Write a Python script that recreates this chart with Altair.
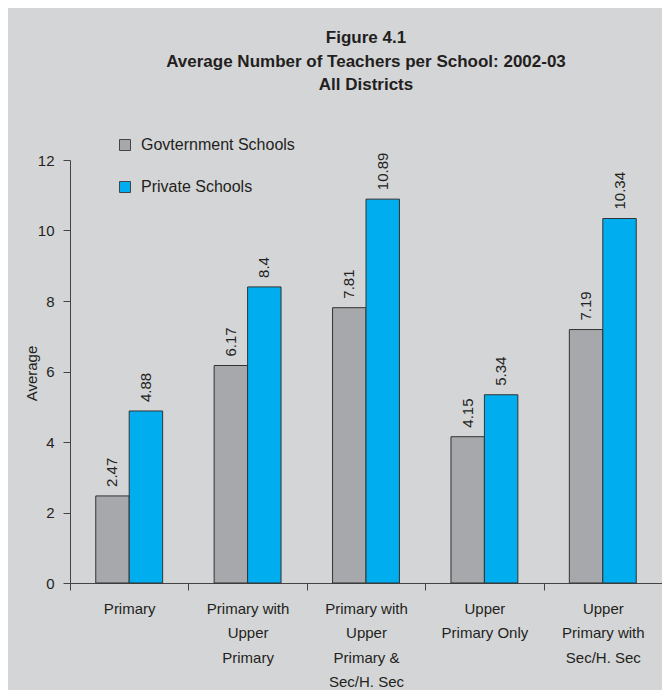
import altair as alt
import pandas as pd

categories = [
    "Primary",
    "Primary with|Upper|Primary",
    "Primary with|Upper|Primary &|Sec/H. Sec",
    "Upper|Primary Only",
    "Upper|Primary with|Sec/H. Sec",
]
series_names = ["Govternment Schools", "Private Schools"]
gov_values = [2.47, 6.17, 7.81, 4.15, 7.19]
pvt_values = [4.88, 8.4, 10.89, 5.34, 10.34]
bar_colors = ["#a7a8ab", "#00aeef"]

rows = []
for c, g, p in zip(categories, gov_values, pvt_values):
    rows.append({"cat": c, "series": series_names[0], "value": g, "label": str(g)})
    rows.append({"cat": c, "series": series_names[1], "value": p, "label": str(p)})
df = pd.DataFrame(rows)

FONT = "Liberation Sans"
TXT = "#231f20"

x_enc = alt.X(
    "cat:N",
    sort=categories,
    scale=alt.Scale(paddingInner=0, paddingOuter=0),
    axis=alt.Axis(
        title=None,
        labelExpr="split(datum.label, '|')",
        labelAngle=0,
        labelFontSize=15,
        labelLineHeight=24.5,
        labelPadding=11,
        labelColor=TXT,
        labelFont=FONT,
        tickSize=7,
        tickBand="extent",
        tickColor="#444",
        domainColor="#444",
        labelBaseline="top",
    ),
)
xoff_enc = alt.XOffset(
    "series:N", sort=series_names, scale=alt.Scale(paddingOuter=0.77, paddingInner=0)
)
y_enc = alt.Y(
    "value:Q",
    scale=alt.Scale(domain=[0, 12]),
    axis=alt.Axis(
        title="Average",
        values=[0, 2, 4, 6, 8, 10, 12],
        grid=False,
        tickSize=7,
        labelPadding=9,
        labelFontSize=15,
        labelColor=TXT,
        labelFont=FONT,
        tickColor="#444",
        domainColor="#444",
        titleFontSize=15,
        titleFontWeight="normal",
        titleColor=TXT,
        titleFont=FONT,
        titleX=-39,
        titleY=213,
        titleBaseline="middle",
    ),
)

bars = alt.Chart(df).mark_bar(stroke="#333333", strokeWidth=1).encode(
    x=x_enc,
    xOffset=xoff_enc,
    y=y_enc,
    color=alt.Color(
        "series:N",
        sort=series_names,
        scale=alt.Scale(domain=series_names, range=bar_colors),
        legend=alt.Legend(
            title=None,
            orient="none",
            legendX=47,
            legendY=-23,
            symbolType="square",
            symbolSize=121,
            symbolStrokeColor="#444",
            symbolStrokeWidth=1,
            labelFontSize=16,
            labelFont=FONT,
            labelColor=TXT,
            labelOffset=8,
            rowPadding=26,
            padding=0,
        ),
    ),
)

texts = alt.Chart(df).mark_text(
    angle=270, align="left", baseline="middle", dx=9, fontSize=15, font=FONT, color=TXT
).encode(
    x=alt.X("cat:N", sort=categories),
    xOffset=alt.XOffset("series:N", sort=series_names),
    y=alt.Y("value:Q"),
    text="label:N",
)

chart = (
    alt.layer(bars, texts)
    .properties(
        width=592,
        height=423,
        background="#d4d5d7",
        padding={"left": 62, "right": 0, "top": 152, "bottom": 107},
        autosize=alt.AutoSizeParams(type="none"),
        title=alt.TitleParams(
            text=["Figure 4.1", "Average Number of Teachers per School: 2002-03", "All Districts"],
            fontSize=17,
            fontWeight="bold",
            font=FONT,
            color=TXT,
            lineHeight=23.5,
            anchor="middle",
            frame="group",
            offset=43,
        ),
    )
    .configure_view(stroke=None)
)

chart.save("out.html", embed_options={"renderer": "svg", "actions": False})
